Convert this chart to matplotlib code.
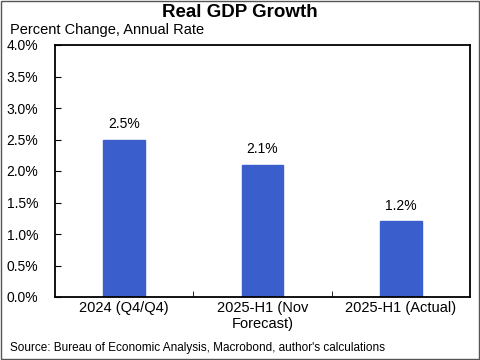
import numpy as np
import matplotlib.pyplot as plt
from matplotlib.patches import Rectangle

plt.rcParams['font.family'] = ['Liberation Sans', 'DejaVu Sans']

# Data
categories = ['2024 (Q4/Q4)', '2025-H1 (Nov\nForecast)', '2025-H1 (Actual)']
growth = [2.5, 2.1, 1.2]
value_labels = ['2.5%', '2.1%', '1.2%']
y_ticks = [0.0, 0.5, 1.0, 1.5, 2.0, 2.5, 3.0, 3.5, 4.0]

fig = plt.figure(figsize=(4.8, 3.6), dpi=100)
ax = fig.add_axes([55 / 480, 63 / 360, 415 / 480, 252 / 360])

x = np.arange(len(categories))
ax.bar(x, growth, width=0.3, color='#3a5fcd', edgecolor='#3a5fcd', zorder=2)
for xi, v, lab in zip(x, growth, value_labels):
    ax.text(xi, v + 0.14, lab, ha='center', va='bottom', fontsize=10)

ax.set_xlim(-0.5, 2.5)
ax.set_ylim(0, 4.0)
ax.set_yticks(y_ticks)
ax.set_yticklabels(['%.1f%%' % t for t in y_ticks], fontsize=10)
ax.set_xticks(x)
ax.set_xticklabels(categories, fontsize=10.5)
ax.tick_params(axis='x', length=0, pad=3)
ax.set_xticks([0.5, 1.5], minor=True)
ax.tick_params(axis='x', which='minor', direction='in', length=4)
ax.tick_params(axis='y', direction='in', length=4, pad=12)
for s in ax.spines.values():
    s.set_linewidth(1.3)

fig.text(0.5, 0.965, 'Real GDP Growth', ha='center', va='center',
         fontsize=13.5, fontweight='bold')
fig.text(10 / 480, 1 - 30 / 360, 'Percent Change, Annual Rate', ha='left',
         va='center', fontsize=10.5)
fig.text(10 / 480, 1 - 348 / 360,
         "Source: Bureau of Economic Analysis, Macrobond, author's calculations",
         ha='left', va='center', fontsize=8.5)

fig.patches.append(Rectangle((0.003, 0.003), 0.994, 0.994, transform=fig.transFigure,
                             fill=False, edgecolor='#555555', linewidth=1))

fig.savefig('out.png', dpi=100)
